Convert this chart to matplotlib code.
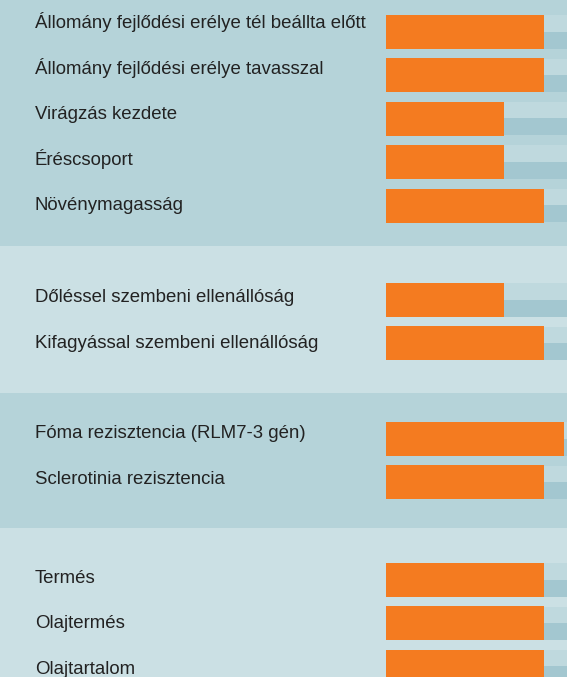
import matplotlib
matplotlib.use("Agg")
import matplotlib.pyplot as plt
import matplotlib.transforms as mtransforms

# ---- data ----
categories = [
    "Állomány fejlődési erélye tél beállta előtt",
    "Állomány fejlődési erélye tavasszal",
    "Virágzás kezdete",
    "Éréscsoport",
    "Növénymagasság",
    "Dőléssel szembeni ellenállóság",
    "Kifagyással szembeni ellenállóság",
    "Fóma rezisztencia (RLM7-3 gén)",
    "Sclerotinia rezisztencia",
    "Termés",
    "Olajtermés",
    "Olajtartalom",
]
values = [8, 8, 6, 6, 8, 6, 8, 9, 8, 8, 8, 8]
group_sizes = [5, 2, 2, 3]
scale_max = 10

# ---- layout (pixels, figure 567x677) ----
W, H = 567, 677
band_edges = [0, 246, 393, 528, 677]
band_colors = ["#b5d3d9", "#cbe0e4", "#b5d3d9", "#cbe0e4"]
bar_group_start = [32, 300, 439, 580]
bar_step = 43.4
label_group_start = [28.5, 302.3, 438.3, 583.0]
label_step = 45.4
bar_h = 34
px_per_unit = 19.75
x0_px = 385.8

bar_y, label_y = [], []
for g, n in enumerate(group_sizes):
    for i in range(n):
        bar_y.append(bar_group_start[g] + i * bar_step)
        label_y.append(label_group_start[g] + i * label_step)

fig = plt.figure(figsize=(W / 100, H / 100), dpi=100)
ax = fig.add_axes([0, 0, 1, 1])
ax.set_xlim(-x0_px / px_per_unit, (W - x0_px) / px_per_unit)
ax.set_ylim(H, 0)
ax.axis("off")

# background bands
for g in range(len(band_colors)):
    ax.axhspan(band_edges[g], band_edges[g + 1], color=band_colors[g], lw=0, zorder=0)

# tracks (upper light half, lower darker half)
ax.barh([y - bar_h / 4 for y in bar_y], [scale_max] * len(bar_y), height=bar_h / 2 - 0.5,
        left=0, color="#bfd9de", lw=0, zorder=1)
ax.barh([y + bar_h / 4 - 0.5 for y in bar_y], [scale_max] * len(bar_y), height=bar_h / 2,
        left=0, color="#a3c7d0", lw=0, zorder=1)

# orange value bars
ax.barh(bar_y, values, height=bar_h, left=0, color="#f47b20", lw=0, zorder=2)

# labels
trans = mtransforms.blended_transform_factory(ax.transAxes, ax.transData)
for lab, y in zip(categories, label_y):
    ax.text(35 / W, y, lab, transform=trans, ha="left", va="baseline",
            fontsize=13.45, family=["Liberation Sans", "DejaVu Sans"], color="#222222", zorder=3)

fig.savefig("out.png", dpi=100)
